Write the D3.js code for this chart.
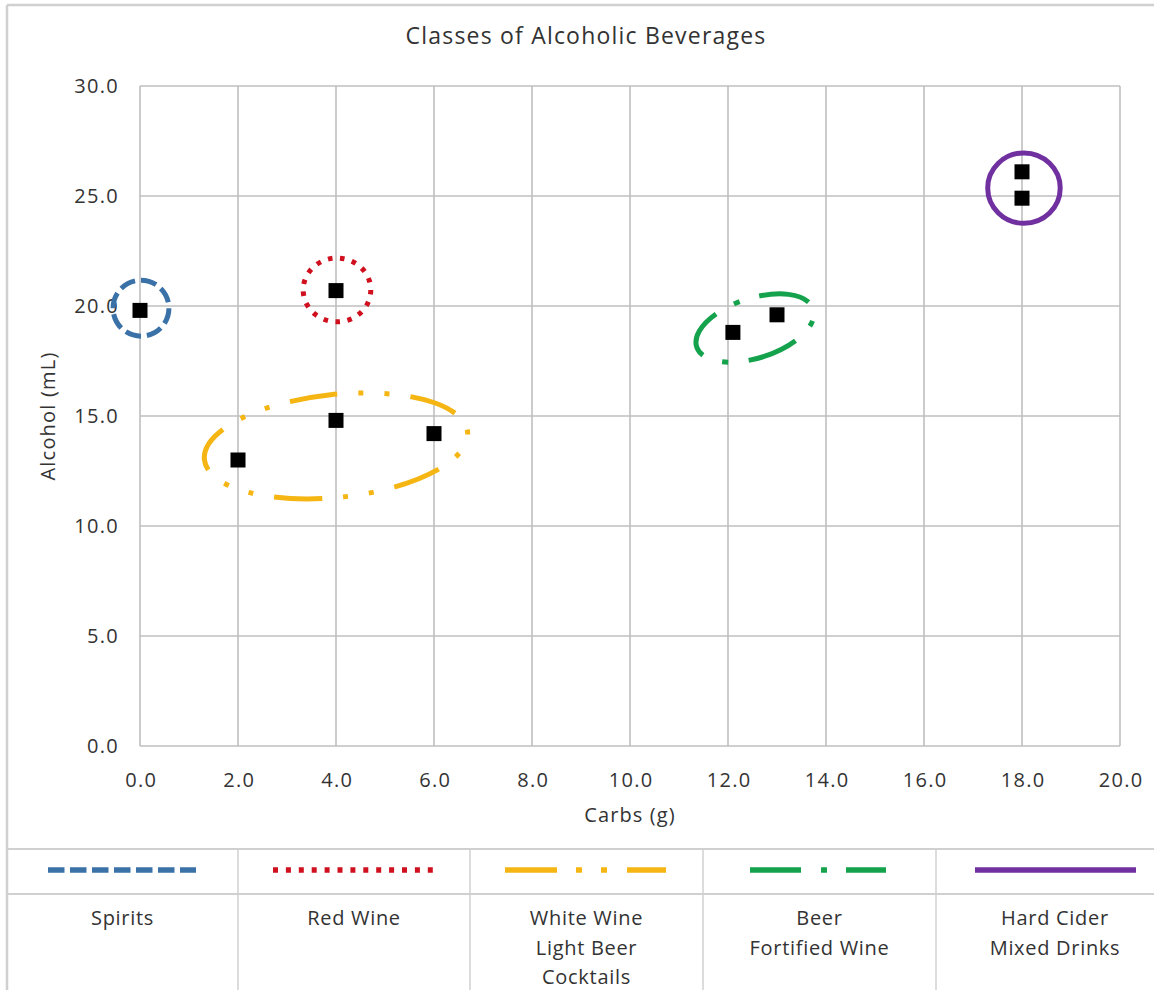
<!DOCTYPE html>
<html>
<head>
<meta charset="utf-8">
<script src="https://cdn.jsdelivr.net/npm/d3@7/dist/d3.min.js"></script>
<style>
  body { margin: 0; background: #fff; }
  svg { display: block; }
  text { font-family: "Open Sans", "Noto Sans", sans-serif; fill: #333; font-weight: 500; }
</style>
</head>
<body>
<svg id="chart" width="1154" height="990"></svg>
<script>
// ---- data ----
const chartTitle = "Classes of Alcoholic Beverages";
const xAxisTitle = "Carbs (g)";
const yAxisTitle = "Alcohol (mL)";
const xTicks = [0, 2, 4, 6, 8, 10, 12, 14, 16, 18, 20];
const yTicks = [0, 5, 10, 15, 20, 25, 30];

// beverages: carbs (g) and alcohol (mL)
const pointCarbs   = [0.0, 4.0, 2.0, 4.0, 6.0, 12.1, 13.0, 18.0, 18.0];
const pointAlcohol = [19.8, 20.7, 13.0, 14.8, 14.2, 18.8, 19.6, 26.1, 24.9];

// classes and the region outlined around each one (data units)
const classLabels = [
  ["Spirits"],
  ["Red Wine"],
  ["White Wine", "Light Beer", "Cocktails"],
  ["Beer", "Fortified Wine"],
  ["Hard Cider", "Mixed Drinks"]
];
const regionCarbs          = [0.02, 4.02, 4.0, 12.55, 18.04];
const regionAlcohol        = [19.9, 20.73, 13.64, 19.0, 25.36];
const regionCarbsRadius    = [0.57, 0.69, 2.70, 1.25, 0.74];
const regionAlcoholRadius  = [1.27, 1.45, 2.34, 1.36, 1.60];
const regionTilt           = [0, 0, -6, -18, 0];

// ---- styles ----
const classColors = ["#3a72a8", "#d0101e", "#f5b614", "#15a24c", "#7030a0"];
const regionDash  = [[16, 6], [4.5, 7.5], [48, 21, 5, 21, 5, 21], [50, 20, 6, 20], null];
// path distance from the start point to the first dot (null: no dot pattern)
const regionDotAt = [null, null, 0, 15, null];
const legendDash  = ["16.5,5.5", "5,7.9", "52,19,6,19,6,20", "51,20,6,19", null];

const svg = d3.select("#chart");
const W = 1154, H = 990;
const frameColor = "#d0d0d0";
const gridColor = "#bfbfbf";
const fontStack = '"Open Sans", "Noto Sans", sans-serif';

const x = d3.scaleLinear().domain([0, 20]).range([140, 1120]);
const y = d3.scaleLinear().domain([0, 30]).range([746, 86]);

// outer frame of the chart
svg.append("line").attr("x1", 7).attr("x2", W).attr("y1", 5).attr("y2", 5)
  .attr("stroke", frameColor).attr("stroke-width", 2.5);
svg.append("line").attr("x1", 7).attr("x2", 7).attr("y1", 5).attr("y2", H)
  .attr("stroke", frameColor).attr("stroke-width", 2.5);

// title
svg.append("text").attr("x", 586).attr("y", 44).attr("text-anchor", "middle")
  .style("font-size", "23px").style("letter-spacing", "1.2px").text(chartTitle);

// grid
const grid = svg.append("g");
grid.selectAll("line.v").data(xTicks).join("line").attr("class", "v")
  .attr("x1", d => x(d)).attr("x2", d => x(d))
  .attr("y1", y(30)).attr("y2", y(0))
  .attr("stroke", gridColor).attr("stroke-width", 1.6);
grid.selectAll("line.h").data(yTicks).join("line").attr("class", "h")
  .attr("x1", x(0)).attr("x2", x(20))
  .attr("y1", d => y(d)).attr("y2", d => y(d))
  .attr("stroke", gridColor).attr("stroke-width", 1.6);

// axes (labels only; grid lines draw the frame)
const xAxis = svg.append("g").attr("transform", `translate(0,${y(0)})`)
  .call(d3.axisBottom(x).tickValues(xTicks).tickFormat(d3.format(".1f")).tickSize(0).tickPadding(27));
const yAxis = svg.append("g").attr("transform", `translate(${x(0)},0)`)
  .call(d3.axisLeft(y).tickValues(yTicks).tickFormat(d3.format(".1f")).tickSize(0).tickPadding(21));
[xAxis, yAxis].forEach(a => {
  a.select(".domain").remove();
  a.selectAll("text").style("font-size", "20px").style("letter-spacing", "1.3px")
    .attr("fill", "#333").style("font-family", fontStack);
});
xAxis.selectAll("text").attr("dx", "0.7px");

svg.append("text").attr("x", (x(0) + x(20)) / 2).attr("y", 822).attr("text-anchor", "middle")
  .style("font-size", "20px").style("letter-spacing", "1.1px").text(xAxisTitle);
svg.append("text").attr("transform", `translate(55,${(y(0) + y(30)) / 2}) rotate(-90)`)
  .attr("text-anchor", "middle").style("font-size", "20px").style("letter-spacing", "1.2px")
  .text(yAxisTitle);

// points
svg.append("g").selectAll("rect").data(pointCarbs).join("rect")
  .attr("x", (d, i) => x(d) - 7.5).attr("y", (d, i) => y(pointAlcohol[i]) - 7.5)
  .attr("width", 15).attr("height", 15).attr("fill", "#000");

// class regions
const regions = svg.append("g").selectAll("ellipse").data(classLabels).join("ellipse")
  .attr("transform", (d, i) => `translate(${x(regionCarbs[i])},${y(regionAlcohol[i])}) rotate(${regionTilt[i]})`)
  .attr("rx", (d, i) => x(regionCarbsRadius[i]) - x(0))
  .attr("ry", (d, i) => y(0) - y(regionAlcoholRadius[i]))
  .attr("fill", "none")
  .attr("stroke", (d, i) => classColors[i])
  .attr("stroke-width", 5);
regions.each(function (d, i) {
  const pat = regionDash[i];
  if (!pat) return;
  const len = this.getTotalLength();
  const period = d3.sum(pat);
  const n = Math.max(1, Math.round(len / period));
  const k = len / (n * period);
  const scaled = pat.map(v => v * k);
  d3.select(this).attr("stroke-dasharray", scaled.join(","));
  if (regionDotAt[i] !== null) {
    d3.select(this).attr("stroke-dashoffset", scaled[0] + scaled[1] + scaled[2] / 2 - regionDotAt[i]);
  }
});

// legend table
const colEdges = [7, 238, 470, 703, 936, 1174];
const legendTop = 849, legendMid = 894;
svg.append("line").attr("x1", 7).attr("x2", W).attr("y1", legendTop).attr("y2", legendTop)
  .attr("stroke", frameColor).attr("stroke-width", 2);
svg.append("line").attr("x1", 7).attr("x2", W).attr("y1", legendMid).attr("y2", legendMid)
  .attr("stroke", frameColor).attr("stroke-width", 2);
svg.append("g").selectAll("line").data(colEdges.slice(1, 5)).join("line")
  .attr("x1", d => d).attr("x2", d => d).attr("y1", legendTop).attr("y2", H)
  .attr("stroke", frameColor).attr("stroke-width", 1.5);

const legendLineX = [[48, 196], [273, 433], [505, 666], [750, 886], [975, 1136]];
const legend = svg.append("g");
legend.selectAll("line").data(classLabels).join("line")
  .attr("x1", (d, i) => legendLineX[i][0]).attr("x2", (d, i) => legendLineX[i][1])
  .attr("y1", 870).attr("y2", 870)
  .attr("stroke", (d, i) => classColors[i]).attr("stroke-width", 5.5)
  .attr("stroke-dasharray", (d, i) => legendDash[i]);

legend.selectAll("text").data(classLabels).join("text")
  .attr("x", (d, i) => (colEdges[i] + colEdges[i + 1]) / 2)
  .attr("y", 925)
  .attr("text-anchor", "middle")
  .style("font-size", "20px")
  .style("letter-spacing", "0.7px")
  .each(function (lines) {
    d3.select(this).selectAll("tspan").data(lines).join("tspan")
      .attr("x", d3.select(this).attr("x"))
      .attr("dy", (l, j) => j === 0 ? 0 : 29.5)
      .text(l => l);
  });
</script>
</body>
</html>
